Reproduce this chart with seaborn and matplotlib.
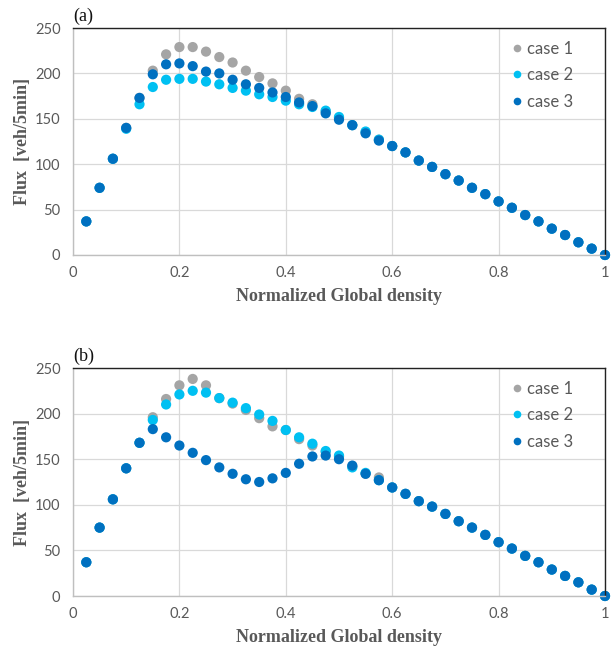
import numpy as np
import pandas as pd
import matplotlib
matplotlib.use("Agg")
import matplotlib.pyplot as plt
import seaborn as sns

# normalized global density (x) shared by both panels
density = [0.025, 0.05, 0.075, 0.1, 0.125, 0.15, 0.175, 0.2, 0.225, 0.25,
           0.275, 0.3, 0.325, 0.35, 0.375, 0.4, 0.425, 0.45, 0.475, 0.5,
           0.525, 0.55, 0.575, 0.6, 0.625, 0.65, 0.675, 0.7, 0.725, 0.75,
           0.775, 0.8, 0.825, 0.85, 0.875, 0.9, 0.925, 0.95, 0.975, 1.0]

# panel (a) flux [veh/5min]
case1_a = [37, 74, 106, 140, 173, 203, 221, 229, 229, 224,
           218, 212, 203, 196, 189, 181, 172, 166, 158, 151,
           143, 135, 127, 120, 113, 104, 97, 89, 82, 74,
           67, 59, 52, 44, 37, 29, 22, 14, 7, 0]
case2_a = [37, 74, 106, 139, 166, 185, 193, 194, 194, 191,
           188, 184, 181, 177, 174, 170, 166, 163, 159, 152,
           143, 136, 127, 120, 113, 104, 97, 89, 82, 74,
           67, 59, 52, 44, 37, 29, 22, 14, 7, 0]
case3_a = [37, 74, 106, 140, 173, 199, 210, 211, 208, 202,
           200, 193, 188, 184, 179, 174, 168, 164, 156, 149,
           143, 134, 126, 120, 113, 104, 97, 89, 82, 74,
           67, 59, 52, 44, 37, 29, 22, 14, 7, 0]

# panel (b) flux [veh/5min]
case1_b = [37, 75, 106, 140, 168, 196, 216, 231, 238, 231,
           217, 211, 204, 195, 186, 182, 172, 165, 158, 153,
           142, 134, 130, 119, 112, 104, 98, 90, 82, 75,
           67, 59, 52, 44, 37, 29, 22, 15, 7, 0]
case2_b = [37, 75, 106, 140, 168, 193, 210, 221, 225, 223,
           217, 212, 206, 199, 192, 182, 174, 167, 159, 154,
           141, 135, 127, 119, 112, 104, 98, 90, 82, 75,
           67, 59, 52, 44, 37, 29, 22, 15, 7, 0]
case3_b = [37, 75, 106, 140, 168, 183, 174, 165, 157, 149,
           141, 134, 128, 125, 129, 135, 145, 153, 154, 150,
           143, 134, 127, 119, 112, 104, 98, 90, 82, 75,
           67, 59, 52, 44, 37, 29, 22, 15, 7, 0]

case_names = ["case 1", "case 2", "case 3"]
case_colors = ["#a5a5a5", "#00c0f2", "#0070c0"]
x_ticks = [0, 0.2, 0.4, 0.6, 0.8, 1]
x_tick_labels = ["0", "0.2", "0.4", "0.6", "0.8", "1"]
y_ticks = [0, 50, 100, 150, 200, 250]

sns.set_style("whitegrid")
plt.rcParams["font.family"] = ["Lato", "DejaVu Sans"]

TEXT_GRAY = "#595959"


def to_long(c1, c2, c3):
    frames = []
    for name, vals in zip(case_names, [c1, c2, c3]):
        frames.append(pd.DataFrame({"density": density, "flux": vals, "case": name}))
    return pd.concat(frames, ignore_index=True)


def draw_panel(ax, df, tag):
    sns.scatterplot(data=df, x="density", y="flux", hue="case",
                    hue_order=case_names, palette=case_colors,
                    s=54, edgecolor="none", linewidth=0, ax=ax)
    for coll in ax.collections:
        coll.set_clip_on(False)

    ax.set_xlim(0, 1)
    ax.set_ylim(0, 250)
    ax.set_xticks(x_ticks)
    ax.set_xticklabels(x_tick_labels)
    ax.set_yticks(y_ticks)
    ax.tick_params(axis="both", length=0, labelsize=10.5, labelcolor=TEXT_GRAY)
    ax.tick_params(axis="y", pad=9)
    ax.tick_params(axis="x", pad=8)
    ax.grid(True, color="#d9d9d9", linewidth=0.9)

    ax.spines["left"].set_color("#bfbfbf")
    ax.spines["bottom"].set_color("#bfbfbf")
    ax.spines["top"].set_color("#222222")
    ax.spines["right"].set_color("#222222")
    for sp in ax.spines.values():
        sp.set_linewidth(1.0)
        sp.set_visible(True)

    ax.set_xlabel("Normalized Global density", family="Liberation Serif",
                  fontweight="bold", fontsize=13, color=TEXT_GRAY, labelpad=6)
    ax.set_ylabel("Flux  [veh/5min]", family="Liberation Serif",
                  fontweight="bold", fontsize=13, color=TEXT_GRAY, labelpad=3)

    handles, labels = ax.get_legend_handles_labels()
    leg = ax.legend(handles, labels, loc="upper right", bbox_to_anchor=(0.955, 0.98),
                    frameon=False, fontsize=12, handlelength=0.5,
                    handletextpad=0.35, labelspacing=0.62, borderpad=0,
                    markerscale=0.75)
    for t in leg.get_texts():
        t.set_color(TEXT_GRAY)

    ax.text(0.0, 1.015, tag, transform=ax.transAxes, fontsize=13,
            family="Liberation Serif", ha="left", va="bottom", color="#111111")


fig = plt.figure(figsize=(6.12, 6.5), dpi=100)
ax_a = fig.add_axes([73 / 612, 1 - 255 / 650, 532 / 612, 227 / 650])
ax_b = fig.add_axes([73 / 612, 1 - 596 / 650, 532 / 612, 228 / 650])

draw_panel(ax_a, to_long(case1_a, case2_a, case3_a), "(a)")
draw_panel(ax_b, to_long(case1_b, case2_b, case3_b), "(b)")

fig.savefig("out.png", dpi=100)
plt.close(fig)
